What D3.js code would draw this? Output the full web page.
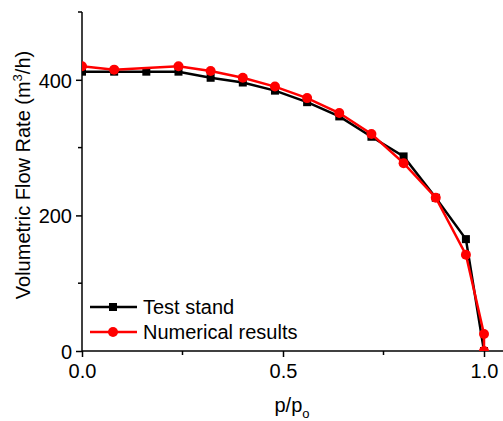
<!DOCTYPE html>
<html>
<head>
<meta charset="utf-8">
<script src="https://cdn.jsdelivr.net/npm/d3@7"></script>
<style>
  body { margin: 0; background: #fff; }
  text { font-family: "Liberation Sans", Arial, sans-serif; fill: #000; }
</style>
</head>
<body>
<svg id="chart" width="503" height="421"></svg>
<script>
// data
var testX = [0, 0.08, 0.16, 0.24, 0.32, 0.40, 0.48, 0.56, 0.64, 0.72, 0.80, 0.88, 0.955, 1.0];
var testY = [412, 412, 412, 412, 403, 396, 384, 367, 346, 316, 287, 226, 165, 0];
var numX = [0, 0.08, 0.24, 0.32, 0.40, 0.48, 0.56, 0.64, 0.72, 0.80, 0.88, 0.955, 1.0, 1.0];
var numY = [420, 415, 420, 413, 403, 390, 373, 351, 320, 277, 226, 142, 25, 0];
var xTicks = [0, 0.5, 1.0];
var yTicks = [0, 200, 400];
var xMinor = [0.25, 0.75];
var yMinor = [100, 300, 500];

var svg = d3.select('#chart');
var plotLeft = 82, plotRight = 484, plotTop = 12, plotBottom = 351;

var x = d3.scaleLinear().domain([0, 1]).range([plotLeft, plotRight]);
var y = d3.scaleLinear().domain([0, 500]).range([plotBottom, plotTop]);

svg.append('defs').append('clipPath').attr('id', 'clip')
   .append('rect').attr('x', plotLeft).attr('y', plotTop - 10)
   .attr('width', 503 - plotLeft).attr('height', plotBottom - plotTop + 10);

// axes
var yAxis = d3.axisLeft(y).tickValues(yTicks).tickSize(6).tickFormat(d3.format('d'));
var xAxis = d3.axisBottom(x).tickValues(xTicks).tickSize(6).tickFormat(d3.format('.1f'));

var gy = svg.append('g').attr('transform', 'translate(' + plotLeft + ',0)').call(yAxis);
var gx = svg.append('g').attr('transform', 'translate(0,' + plotBottom + ')').call(xAxis);
[gx, gy].forEach(function(g){
  g.select('.domain').remove();
  g.selectAll('line').attr('stroke', '#000').attr('stroke-width', 1.5);
  g.selectAll('text').style('font-size', '20px').attr('fill', '#000');
});
gy.selectAll('text').attr('x', -10).attr('dy', '0.36em');
gx.selectAll('text').attr('y', 13);

// minor ticks
svg.append('g').selectAll('line').data(yMinor).enter().append('line')
   .attr('x1', plotLeft - 4).attr('x2', plotLeft)
   .attr('y1', function(d){ return y(d); }).attr('y2', function(d){ return y(d); })
   .attr('stroke', '#000').attr('stroke-width', 1.5);
svg.append('g').selectAll('line').data(xMinor).enter().append('line')
   .attr('y1', plotBottom).attr('y2', plotBottom + 4)
   .attr('x1', function(d){ return x(d); }).attr('x2', function(d){ return x(d); })
   .attr('stroke', '#000').attr('stroke-width', 1.5);

svg.append('line').attr('x1', plotLeft).attr('x2', plotLeft).attr('y1', plotTop).attr('y2', plotBottom)
   .attr('stroke', '#000').attr('stroke-width', 1.5);
svg.append('line').attr('x1', plotLeft).attr('x2', 503).attr('y1', plotBottom).attr('y2', plotBottom)
   .attr('stroke', '#000').attr('stroke-width', 1.5);

// series
var plot = svg.append('g').attr('clip-path', 'url(#clip)');
var line = d3.line().x(function(d){ return x(d[0]); }).y(function(d){ return y(d[1]); });
var testPts = d3.zip(testX, testY);
var numPts = d3.zip(numX, numY);

plot.append('path').datum(testPts).attr('d', line)
    .attr('fill', 'none').attr('stroke', '#000').attr('stroke-width', 2.5);
plot.selectAll('rect.pt').data(testPts).enter().append('rect')
    .attr('class', 'pt')
    .attr('x', function(d){ return x(d[0]) - 4; })
    .attr('y', function(d){ return y(d[1]) - 4; })
    .attr('width', 8).attr('height', 8).attr('fill', '#000');

plot.append('path').datum(numPts).attr('d', line)
    .attr('fill', 'none').attr('stroke', '#ff0000').attr('stroke-width', 2.5);
plot.selectAll('circle.pt').data(numPts).enter().append('circle')
    .attr('class', 'pt')
    .attr('cx', function(d){ return x(d[0]); })
    .attr('cy', function(d){ return y(d[1]); })
    .attr('r', 5).attr('fill', '#ff0000');

// legend
var legend = svg.append('g');
legend.append('line').attr('x1', 90).attr('x2', 137).attr('y1', 307).attr('y2', 307)
      .attr('stroke', '#000').attr('stroke-width', 2.5);
legend.append('rect').attr('x', 109).attr('y', 303).attr('width', 8).attr('height', 8).attr('fill', '#000');
legend.append('text').attr('x', 143).attr('y', 307).attr('dy', '0.36em')
      .style('font-size', '20px').text('Test stand');
legend.append('line').attr('x1', 90).attr('x2', 137).attr('y1', 332).attr('y2', 332)
      .attr('stroke', '#ff0000').attr('stroke-width', 2.5);
legend.append('circle').attr('cx', 113).attr('cy', 332).attr('r', 5).attr('fill', '#ff0000');
legend.append('text').attr('x', 143).attr('y', 332).attr('dy', '0.36em')
      .style('font-size', '20px').text('Numerical results');

// axis titles
var yt = svg.append('text').attr('transform', 'translate(30,175) rotate(-90)')
   .attr('text-anchor', 'middle').style('font-size', '20px');
yt.append('tspan').text('Volumetric Flow Rate (m');
yt.append('tspan').attr('dy', -8).style('font-size', '13px').text('3');
yt.append('tspan').attr('dy', 8).text('/h)');

var xt = svg.append('text').attr('x', 292).attr('y', 412)
   .attr('text-anchor', 'middle').style('font-size', '20px');
xt.append('tspan').text('p/p');
xt.append('tspan').attr('dy', 6).style('font-size', '13px').text('o');
</script>
</body>
</html>
